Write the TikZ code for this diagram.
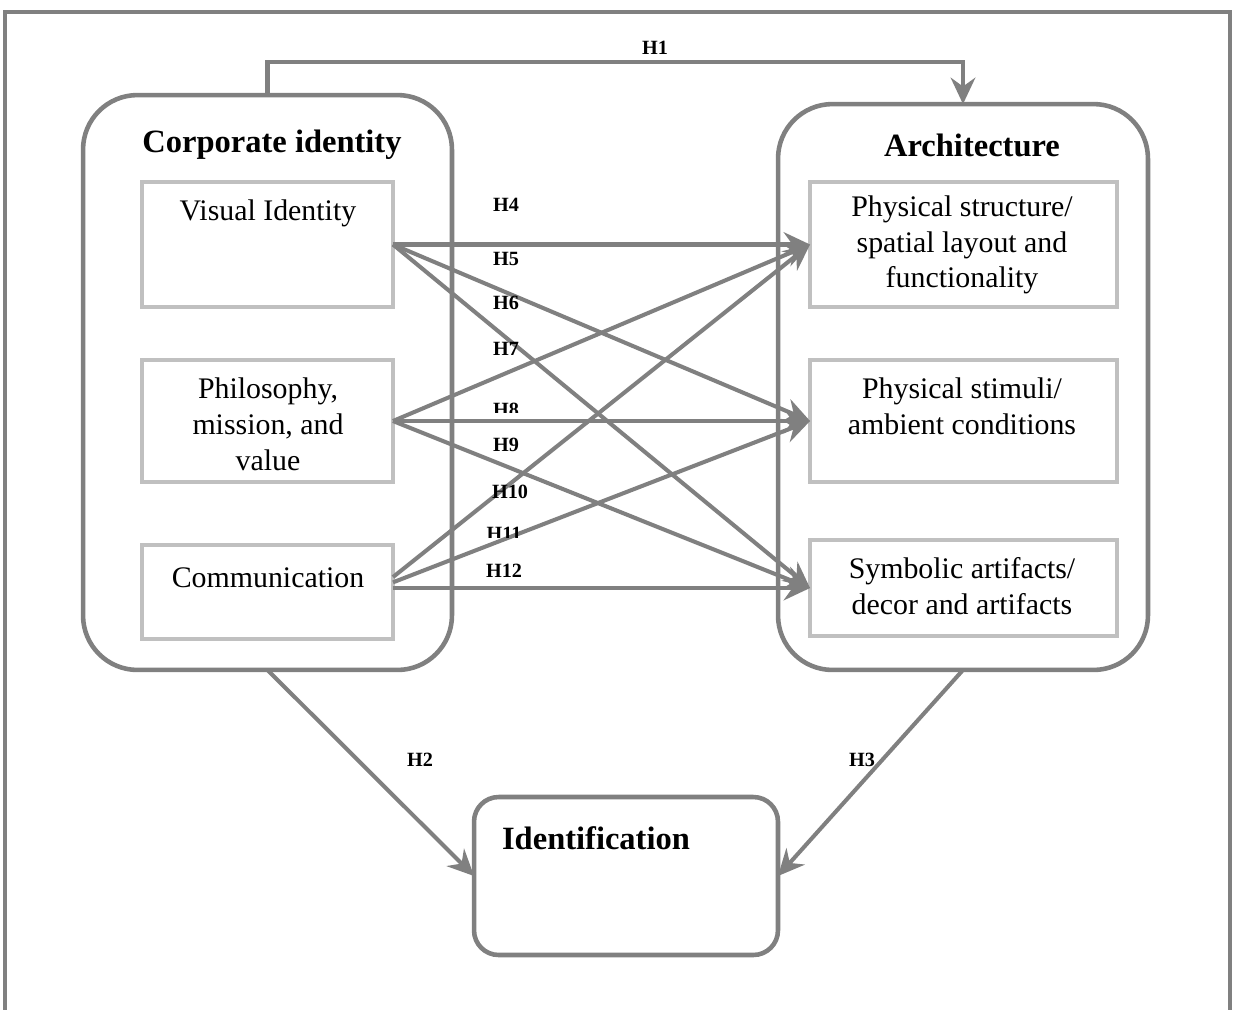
\documentclass[tikz,border=0pt]{standalone}
\usepackage{fontspec}
\setmainfont{Liberation Serif}
\usetikzlibrary{arrows.meta}
\definecolor{framegray}{RGB}{128,128,128}
\definecolor{boxgray}{RGB}{192,192,192}

\begin{document}
\begin{tikzpicture}[x=0.02cm,y=-0.02cm,
  bigbox/.style={draw=framegray, line width=2.6pt, rounded corners=31pt, outer sep=0pt, inner sep=0pt},
  idbox/.style={draw=framegray, line width=2.6pt, rounded corners=14pt, outer sep=0pt, inner sep=0pt},
  subbox/.style={draw=boxgray, line width=2.3pt, outer sep=0pt, inner sep=0pt},
  link/.style={draw=framegray, line width=2.3pt, -{Stealth[length=15pt, width=14pt, inset=5pt]}},
  title/.style={font=\fontsize{18.5}{22}\selectfont\bfseries, inner sep=0pt},
  body/.style={font=\fontsize{17}{20.4}\selectfont, align=center, inner sep=0pt},
  hlab/.style={font=\fontsize{11.5}{13}\selectfont\bfseries, inner sep=0pt}]

% canvas
\useasboundingbox (0,0) rectangle (1234,1009);
\fill[white] (0,0) rectangle (1234,1009);

% open frame round the model
\draw[framegray, line width=2.3pt] (5,1012) -- (5,12) -- (1230,12) -- (1230,1012);

% construct boxes
\node[bigbox, minimum width=7.38cm, minimum height=11.5cm] (corp) at (267.5,382.5) {};
\node[bigbox, minimum width=7.4cm, minimum height=11.32cm] (arch) at (963,387) {};
\node[idbox, minimum width=6.08cm, minimum height=3.16cm] (ident) at (626,876) {};

\node[title] (corpT) at (272,145) {Corporate identity};
\node[title] (archT) at (972,145) {Architecture};
\node[title] (identT) at (596,838) {Identification};

% dimensions of corporate identity
\node[subbox, minimum width=5.02cm, minimum height=2.5cm] (vis) at (267.5,244.5) {};
\node[subbox, minimum width=5.02cm, minimum height=2.44cm] (phil) at (267.5,421) {};
\node[subbox, minimum width=5.02cm, minimum height=1.88cm] (comm) at (267.5,592) {};

\node[body] (visT) at (268,213) {Visual Identity};
\node[body] (philT) at (268,424) {Philosophy,\\mission, and\\value};
\node[body] (commT) at (268,578) {Communication};

% dimensions of architecture
\node[subbox, minimum width=6.14cm, minimum height=2.5cm] (phys) at (963.5,244.5) {};
\node[subbox, minimum width=6.14cm, minimum height=2.44cm] (stim) at (963.5,421) {};
\node[subbox, minimum width=6.14cm, minimum height=1.92cm] (symb) at (963.5,588) {};

\node[body] (physT) at (962,245) {Physical structure/\\spatial layout and\\functionality};
\node[body] (stimT) at (962,406) {Physical stimuli/\\ambient conditions};
\node[body] (symbT) at (962,586) {Symbolic artifacts/\\decor and artifacts};

% main hypotheses
\draw[link] (corp.north) -- ++(0,-33) -| (arch.north);
\draw[link] (corp.south) -- (ident.west);
\draw[link] (arch.south) -- (ident.east);

% dimension-level hypotheses
\draw[link] (vis.east) -- (phys.west);
\draw[link] (vis.east) -- (stim.west);
\draw[link] (vis.east) -- (symb.west);
\draw[link] (phil.east) -- (phys.west);
\draw[link] (phil.east) -- (stim.west);
\draw[link] (phil.east) -- (symb.west);
\draw[link] ([yshift=8.5pt]comm.east) -- (phys.west);
\draw[link] ([yshift=5.5pt]comm.east) -- (stim.west);
\draw[link] (symb.west -| comm.east) -- (symb.west);

% hypothesis labels (H8 and H11 are cut off at the bottom)
\node[hlab] (h1) at (655,48) {H1};
\node[hlab] (h2) at (420,760) {H2};
\node[hlab] (h3) at (862,760) {H3};
\node[hlab] (h4) at (506,205) {H4};
\node[hlab] (h5) at (506,259) {H5};
\node[hlab] (h6) at (506,303) {H6};
\node[hlab] (h7) at (506,349) {H7};
\begin{scope}
  \clip (480,394) rectangle (540,412);
  \node[hlab] (h8) at (506,410) {H8};
\end{scope}
\node[hlab] (h9) at (506,445) {H9};
\node[hlab] (h10) at (510,492) {H10};
\begin{scope}
  \clip (475,518) rectangle (540,537);
  \node[hlab] (h11) at (504,534) {H11};
\end{scope}
\node[hlab] (h12) at (504,571) {H12};
\end{tikzpicture}
\end{document}
